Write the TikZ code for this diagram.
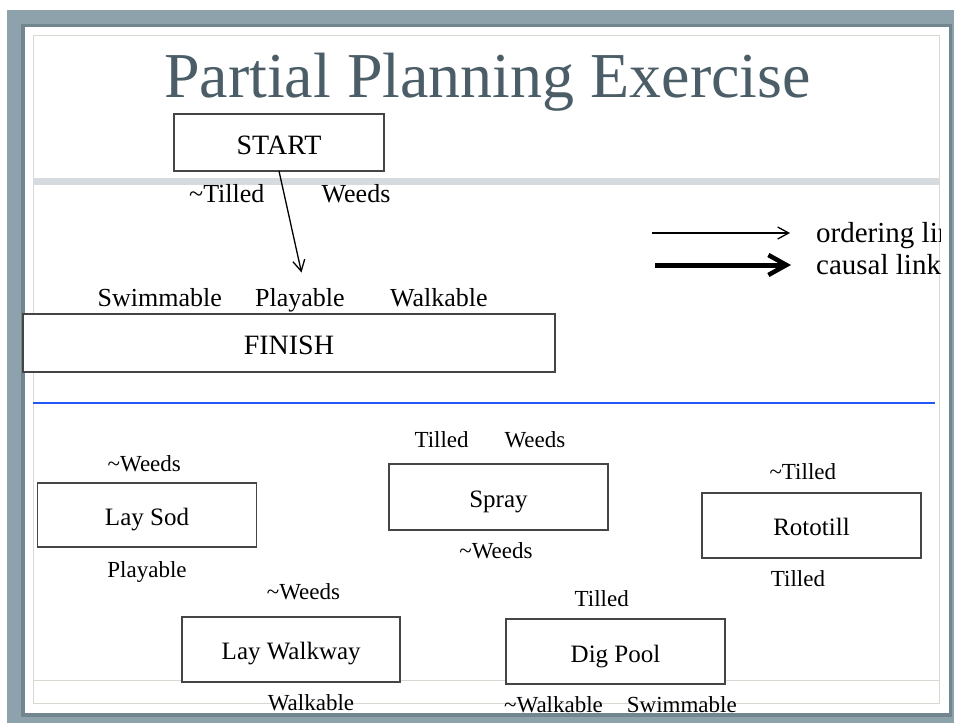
\documentclass[tikz,border=0pt]{standalone}
\usepackage{fontspec}
\setmainfont{Liberation Serif}
\usetikzlibrary{arrows.meta}

\definecolor{frame}{HTML}{8DA2AA}
\definecolor{frameshade}{HTML}{71868F}
\definecolor{titleink}{HTML}{4B5E68}
\definecolor{band}{HTML}{D5DBDE}
\definecolor{rule}{HTML}{D9D9D1}
\definecolor{boxline}{HTML}{454545}
\definecolor{divider}{HTML}{2457F5}

\tikzset{
  stepbox/.style={draw=boxline, line width=1.8pt, fill=white, inner sep=0pt,
    outer sep=0pt, text height=21pt, text depth=0pt},
  bigbox/.style={stepbox, font=\fontsize{28}{30}\selectfont, text height=23.5pt},
  smallbox/.style={stepbox, font=\fontsize{25}{27}\selectfont},
  toplabel/.style={inner sep=0pt, font=\fontsize{26}{28}\selectfont},
  lowlabel/.style={inner sep=0pt, font=\fontsize{23}{25}\selectfont},
  legendtext/.style={inner sep=0pt, font=\fontsize{29}{31}\selectfont},
  orderarrow/.style={line width=1.3pt,
    -{Straight Barb[length=11pt,width=12pt,line width=1.3pt]}},
  causalarrow/.style={line width=5pt,
    -{Straight Barb[length=18pt,width=20pt,line width=4.5pt]}},
}

\begin{document}
\begin{tikzpicture}[x=1pt,y=-1pt]
\useasboundingbox (0,0) rectangle (954,723);

% slide frame and page
\fill[white] (0,0) rectangle (954,723);
\fill[frame] (7,10) rectangle (954,723);
\fill[frameshade] (21,24) rectangle (952,717);
\fill[white] (25,27) rectangle (949,713);
\draw[rule, line width=1pt] (33,35) rectangle (939,703);
\fill[band] (33,178) rectangle (939,185);
\draw[rule, line width=1pt] (33,680) -- (939,680);

% title
\node[anchor=base, inner sep=0pt, text=titleink,
  font=\fontsize{64}{68}\selectfont] (title) at (487.5,97) {Partial Planning Exercise};

% start and finish steps
\node[bigbox, minimum width=210pt, minimum height=57pt] (start) at (279,142.5) {START};
\node[toplabel, anchor=base west] (startnt) at (189,202) {\textasciitilde Tilled};
\node[toplabel, anchor=base west] (startw) at (321.5,202) {Weeds};

\node[toplabel, anchor=base west] (finsw) at (97.5,306) {Swimmable};
\node[toplabel, anchor=base west] (finpl) at (255,306) {Playable};
\node[toplabel, anchor=base west] (finwa) at (390,306) {Walkable};
\node[bigbox, minimum width=532pt, minimum height=58pt] (finish) at (288.9,343) {FINISH};

\coordinate (goal) at (301.5,272.5);
\draw[orderarrow] (start.south) -- (goal);

% legend
\coordinate (ordA) at (652,233);
\coordinate (ordB) at (790,233);
\draw[orderarrow] (ordA) -- (ordB);
\coordinate (cauA) at (655,265);
\coordinate (cauB) at (791,265);
\draw[causalarrow] (cauA) -- (cauB);
\begin{scope}
  \clip (0,0) rectangle (940,723);
  \node[legendtext, anchor=base west] (ordtxt) at (816,242) {ordering links};
  \node[legendtext, anchor=base west] (cautxt) at (816,274) {causal links};
\end{scope}

% divider between plan and available actions
\draw[divider, line width=2pt] (33,403) -- (935,403);

% Lay Sod
\node[lowlabel, anchor=base] (sodpre) at (144.3,471) {\textasciitilde Weeds};
\node[smallbox, minimum width=219pt, minimum height=64pt] (laysod) at (147,515.3) {Lay Sod};
\node[lowlabel, anchor=base] (sodeff) at (147,577) {Playable};

% Spray
\node[lowlabel, anchor=base west] (spraypt) at (414.3,447) {Tilled};
\node[lowlabel, anchor=base west] (spraypw) at (504.3,447) {Weeds};
\node[smallbox, minimum width=219pt, minimum height=65.7pt] (spray) at (498.5,497.2) {Spray};
\node[lowlabel, anchor=base] (sprayeff) at (496,558.3) {\textasciitilde Weeds};

% Rototill
\node[lowlabel, anchor=base] (rotopre) at (802.8,479.3) {\textasciitilde Tilled};
\node[smallbox, minimum width=218.4pt, minimum height=65pt] (rototill) at (811.5,525.2) {Rototill};
\node[lowlabel, anchor=base] (rotoeff) at (798,586.7) {Tilled};

% Lay Walkway
\node[lowlabel, anchor=base] (walkpre) at (303.5,599) {\textasciitilde Weeds};
\node[smallbox, minimum width=217.7pt, minimum height=65pt] (walkway) at (291.2,649.2) {Lay Walkway};
\node[lowlabel, anchor=base] (walkeff) at (311,710) {Walkable};

% Dig Pool
\node[lowlabel, anchor=base] (poolpre) at (601.7,606) {Tilled};
\node[smallbox, minimum width=219pt, minimum height=64.7pt] (digpool) at (615.5,651.7) {Dig Pool};
\node[lowlabel, anchor=base west] (poolnw) at (504,712.3) {\textasciitilde Walkable};
\node[lowlabel, anchor=base west] (poolsw) at (626.7,712.3) {Swimmable};

\end{tikzpicture}
\end{document}
